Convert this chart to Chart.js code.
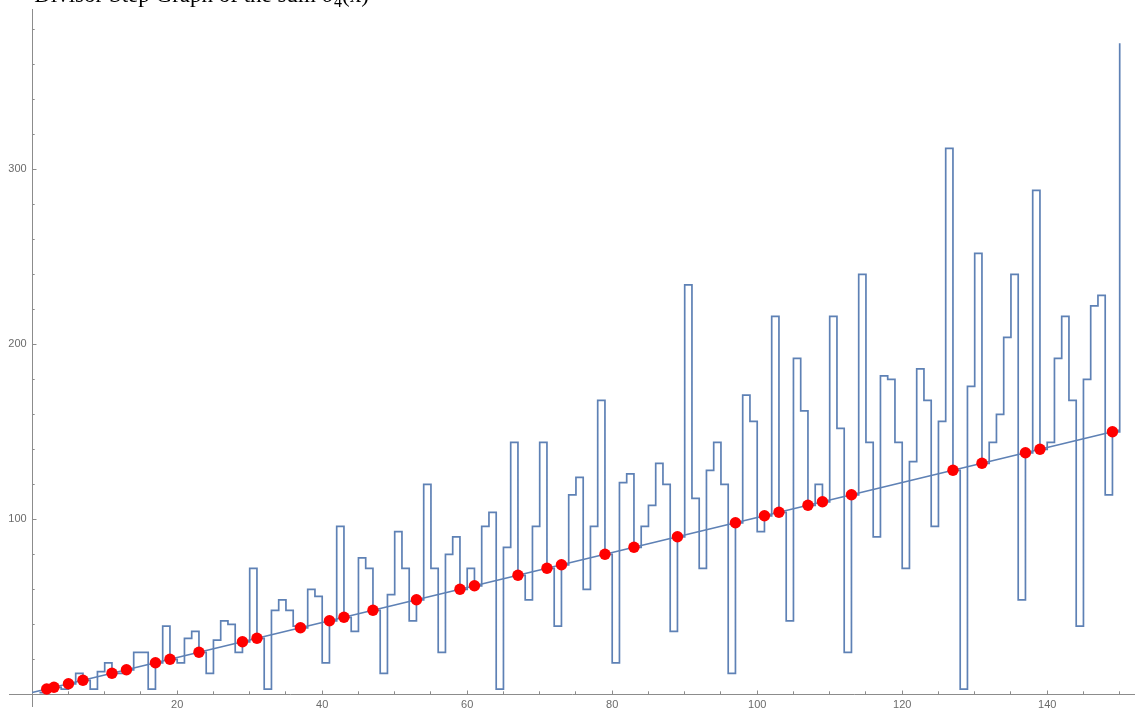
<!DOCTYPE html>
<html>
<head>
<meta charset="utf-8">
<script src="https://cdn.jsdelivr.net/npm/chart.js@4.4.1/dist/chart.umd.min.js"></script>
<style>
  html, body { margin: 0; padding: 0; background: #fff; }
  #wrap { position: relative; width: 1135px; height: 709px; }
</style>
</head>
<body>
<div id="wrap"><canvas id="canvas"></canvas></div>
<script>
// step values for n = 1 .. 150 (each value held from n to n+1)
const stepValues = [
    1, 3, 4, 3, 6, 12, 8, 3, 13, 18,
    12, 12, 14, 24, 24, 3, 18, 39, 20, 18,
    32, 36, 24, 12, 31, 42, 40, 24, 30, 72,
    32, 3, 48, 54, 48, 39, 38, 60, 56, 18,
    42, 96, 44, 36, 78, 72, 48, 12, 57, 93,
    72, 42, 54, 120, 72, 24, 80, 90, 60, 72,
    62, 96, 104, 3, 84, 144, 68, 54, 96, 144,
    72, 39, 74, 114, 124, 60, 96, 168, 80, 18,
    121, 126, 84, 96, 108, 132, 120, 36, 90, 234,
    112, 72, 128, 144, 120, 12, 98, 171, 156, 93,
    102, 216, 104, 42, 192, 162, 108, 120, 110, 216,
    152, 24, 114, 240, 144, 90, 182, 180, 144, 72,
    133, 186, 168, 96, 156, 312, 128, 3, 176, 252,
    132, 144, 160, 204, 240, 54, 138, 288, 140, 144,
    192, 216, 168, 39, 180, 222, 228, 114, 150, 372
];
const stepStart = 1;

// red points
const primes = [2, 3, 5, 7, 11, 13, 17, 19, 23, 29, 31, 37, 41, 43, 47, 53, 59, 61, 67, 71,
    73, 79, 83, 89, 97, 101, 103, 107, 109, 113, 127, 131, 137, 139, 149];
const primeValues = [3, 4, 6, 8, 12, 14, 18, 20, 24, 30, 32, 38, 42, 44, 48, 54, 60, 62, 68, 72,
    74, 80, 84, 90, 98, 102, 104, 108, 110, 114, 128, 132, 138, 140, 150];

// straight line
const lineX = [0, 150];
const lineY = [1, 151];

// ticks
const xMajorTicks = [20, 40, 60, 80, 100, 120, 140];
const xMinorTicks = [5, 10, 15, 20, 25, 30, 35, 40, 45, 50, 55, 60, 65, 70, 75,
    80, 85, 90, 95, 100, 105, 110, 115, 120, 125, 130, 135, 140, 145, 150];
const yMajorTicks = [100, 200, 300];
const yMinorTicks = [20, 40, 60, 80, 100, 120, 140, 160, 180, 200, 220, 240, 260, 280,
    300, 320, 340, 360, 380];

const blue = '#5e81b5';
const axisGray = '#8c8c8c';

function noSpace(scale) {
    if (scale.isHorizontal()) scale.height = 0; else scale.width = 0;
    scale.paddingLeft = 0;
    scale.paddingRight = 0;
    scale.paddingTop = 0;
    scale.paddingBottom = 0;
}

function setTicks(list) {
    return (scale) => { scale.ticks = list.map(v => ({ value: v })); };
}

const cutTitle = {
    id: 'cutTitle',
    afterDraw(chart) {
        const ctx = chart.ctx;
        ctx.save();
        ctx.fillStyle = '#000';
        ctx.textBaseline = 'alphabetic';
        ctx.font = '23px "Liberation Serif"';
        const head = 'Divisor Step Gra';
        const x0 = 190 - ctx.measureText(head).width;
        const main = 'Divisor Step Graph of the sum σ';
        ctx.fillText(main, x0, 2);
        let x = x0 + ctx.measureText(main).width;
        ctx.font = '16px "Liberation Serif"';
        ctx.fillText('4', x, 7);
        x += ctx.measureText('4').width;
        ctx.font = '23px "Liberation Serif"';
        ctx.fillText('(x)', x, 2);
        ctx.restore();
    }
};

function canvas() {
    const ctx = document.getElementById('canvas').getContext('2d');
    new Chart(ctx, {
        type: 'line',
        data: {
            datasets: [
                {
                    label: 'primes',
                    data: primes.map((p, i) => ({ x: p, y: primeValues[i] })),
                    showLine: false,
                    pointRadius: 5.7,
                    pointBackgroundColor: '#ff0000',
                    pointBorderWidth: 0,
                    pointBorderColor: '#ff0000'
                },
                {
                    label: 'line',
                    data: lineX.map((v, i) => ({ x: v, y: lineY[i] })),
                    borderColor: blue,
                    borderWidth: 1.7,
                    pointRadius: 0,
                    fill: false
                },
                {
                    label: 'steps',
                    data: stepValues.map((v, i) => ({ x: stepStart + i, y: v })),
                    stepped: 'before',
                    borderColor: blue,
                    borderWidth: 1.7,
                    pointRadius: 0,
                    fill: false
                }
            ]
        },
        options: {
            responsive: true,
            maintainAspectRatio: false,
            animation: false,
            layout: { autoPadding: false, padding: { left: 9, top: 9, right: 0, bottom: 3 } },
            plugins: {
                legend: { display: false },
                tooltip: { enabled: false },
                title: { display: false }
            },
            scales: {
                x: {
                    type: 'linear',
                    min: -3.2,
                    max: 152.11,
                    position: { y: 0 },
                    afterBuildTicks: setTicks(xMajorTicks),
                    afterFit: noSpace,
                    border: { display: true, color: axisGray, width: 1 },
                    grid: { drawOnChartArea: false, drawTicks: true, tickLength: -4.5, tickColor: axisGray },
                    ticks: {
                        autoSkip: false, maxRotation: 0, padding: 8.5,
                        color: '#6b6b6b',
                        font: { family: '"Liberation Sans", Arial, sans-serif', size: 11 }
                    }
                },
                xMinor: {
                    type: 'linear',
                    axis: 'x',
                    min: -3.2,
                    max: 152.11,
                    position: { y: 0 },
                    afterBuildTicks: setTicks(xMinorTicks),
                    afterFit: noSpace,
                    border: { display: false },
                    grid: { drawOnChartArea: false, drawTicks: true, tickLength: -2.7, tickColor: axisGray },
                    ticks: { display: false }
                },
                y: {
                    type: 'linear',
                    min: -6.7,
                    max: 391.6,
                    position: { x: 0 },
                    afterBuildTicks: setTicks(yMajorTicks),
                    afterFit: noSpace,
                    border: { display: true, color: axisGray, width: 1 },
                    grid: { drawOnChartArea: false, drawTicks: true, tickLength: -4.5, tickColor: axisGray },
                    ticks: {
                        autoSkip: false,
                        color: '#6b6b6b',
                        font: { family: '"Liberation Sans", Arial, sans-serif', size: 11 },
                        callback: (v) => v + '\u2002'
                    }
                },
                yMinor: {
                    type: 'linear',
                    axis: 'y',
                    min: -6.7,
                    max: 391.6,
                    position: { x: 0 },
                    afterBuildTicks: setTicks(yMinorTicks),
                    afterFit: noSpace,
                    border: { display: false },
                    grid: { drawOnChartArea: false, drawTicks: true, tickLength: -2.7, tickColor: axisGray },
                    ticks: { display: false }
                }
            }
        },
        plugins: [cutTitle]
    });
}

canvas();
</script>
</body>
</html>
